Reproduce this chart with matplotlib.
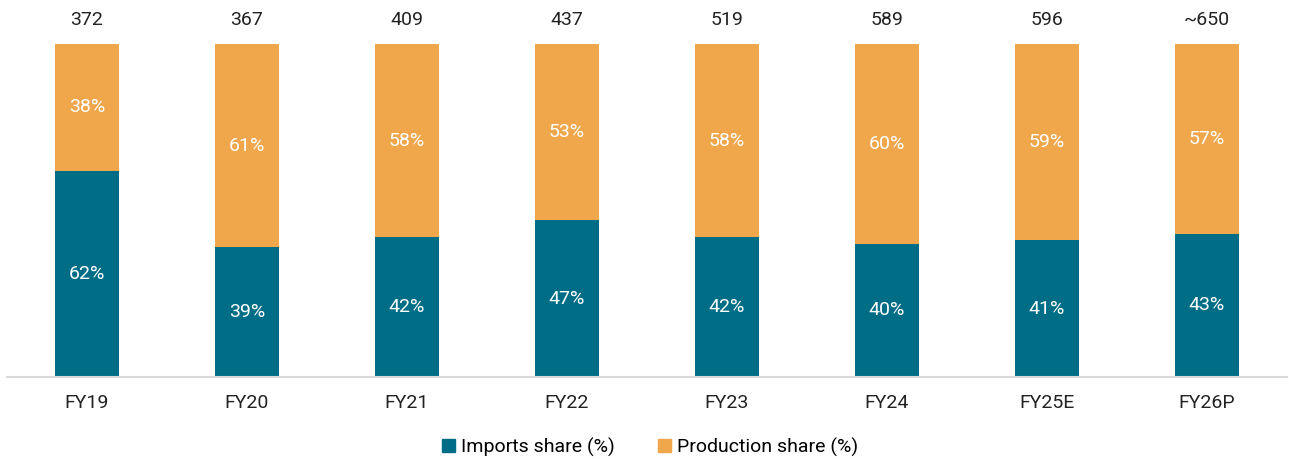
import matplotlib
matplotlib.use("Agg")
import matplotlib.pyplot as plt
from matplotlib.patches import Patch

categories = ["FY19", "FY20", "FY21", "FY22", "FY23", "FY24", "FY25E", "FY26P"]
imports_share = [62, 39, 42, 47, 42, 40, 41, 43]
production_share = [38, 61, 58, 53, 58, 60, 59, 57]
totals = ["372", "367", "409", "437", "519", "589", "596", "~650"]

teal = "#006D87"
orange = "#F0A74C"

plt.rcParams['font.family'] = ['Roboto', 'DejaVu Sans']

W, H = 1289, 459
fig = plt.figure(figsize=(W / 100, H / 100), dpi=100)
ax = fig.add_axes([7 / W, (H - 377) / H, 1280 / W, 333 / H])

x = list(range(len(categories)))
ax.bar(x, imports_share, width=0.4, color=teal, zorder=2)
ax.bar(x, production_share, width=0.4, bottom=imports_share, color=orange, zorder=2)

for i in x:
    ax.text(i, imports_share[i] / 2, f"{imports_share[i]}%", ha="center", va="center",
            color="white", fontsize=14)
    ax.text(i, imports_share[i] + production_share[i] / 2, f"{production_share[i]}%",
            ha="center", va="center", color="white", fontsize=14)
    ax.annotate(totals[i], (i, 100), xytext=(0, 24), textcoords="offset pixels",
                ha="center", va="center", fontsize=14, color="#222222",
                annotation_clip=False)

ax.set_xlim(-0.5, len(categories) - 0.5)
ax.set_ylim(0, 100)
ax.set_xticks(x)
ax.set_xticklabels(categories, fontsize=14, color="#222222")
ax.tick_params(axis="x", length=0, pad=12)
ax.set_yticks([])
for s in ["top", "right", "left"]:
    ax.spines[s].set_visible(False)
ax.spines["bottom"].set_color("#d9d9d9")
ax.spines["bottom"].set_linewidth(1.5)

handles = [Patch(color=teal, label="Imports share (%)"),
           Patch(color=orange, label="Production share (%)")]
fig.legend(handles=handles, loc="center", bbox_to_anchor=(650 / W, (H - 447) / H),
           ncol=2, frameon=False, fontsize=14, handlelength=0.7, handleheight=0.7,
           handletextpad=0.3, columnspacing=2.2)

fig.savefig("out.png", dpi=100)
